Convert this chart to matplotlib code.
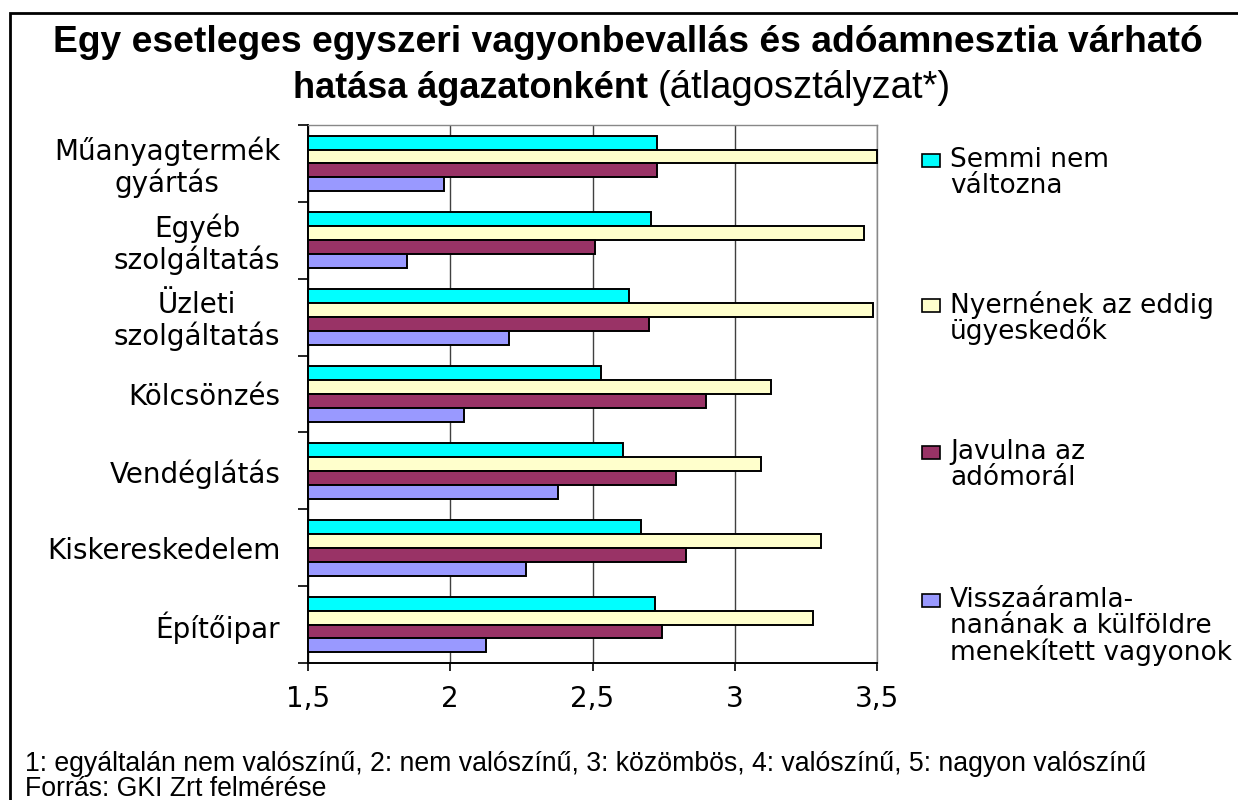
import matplotlib.pyplot as plt
from matplotlib.patches import Rectangle
import numpy as np

W, H = 1238, 800

categories = ['Műanyagtermék\ngyártás', 'Egyéb\nszolgáltatás', 'Üzleti\nszolgáltatás',
              'Kölcsönzés', 'Vendéglátás', 'Kiskereskedelem', 'Építőipar']
series_names = ['Semmi nem\nváltozna', 'Nyernének az eddig\nügyeskedők',
                'Javulna az\nadómorál', 'Visszaáramla-\nnanának a külföldre\nmenekített vagyonok']
semmi = [2.725, 2.705, 2.628, 2.530, 2.606, 2.670, 2.718]
nyernenek = [3.50, 3.456, 3.485, 3.129, 3.094, 3.303, 3.275]
javulna = [2.725, 2.509, 2.698, 2.900, 2.795, 2.830, 2.746]
vissza = [1.979, 1.847, 2.208, 2.049, 2.378, 2.266, 2.126]
colors = ['#00FFFF', '#FFFFCC', '#993366', '#9999FF']
x_ticks = [1.5, 2, 2.5, 3, 3.5]
x_labels = ['1,5', '2', '2,5', '3', '3,5']

title1 = 'Egy esetleges egyszeri vagyonbevallás és adóamnesztia várható'
title2_bold = 'hatása ágazatonként'
title2_reg = '(átlagosztályzat*)'
note1 = '1: egyáltalán nem valószínű, 2: nem valószínű, 3: közömbös, 4: valószínű, 5: nagyon valószínű'
note2 = 'Forrás: GKI Zrt felmérése'

WIDE = 'DejaVu Sans'
NARROW = 'Liberation Sans'

fig = plt.figure(figsize=(W / 100, H / 100), dpi=100)
ax = fig.add_axes([308 / W, 1 - 663 / H, (877 - 308) / W, (663 - 125) / H])

# kategóriák felülről lefelé
n = len(categories)
y = np.arange(n)[::-1].astype(float)
h = 0.181
offsets = [1.5 * h, 0.5 * h, -0.5 * h, -1.5 * h]
for vals, col, off in zip([semmi, nyernenek, javulna, vissza], colors, offsets):
    ax.barh(y + off, np.array(vals) - 1.5, left=1.5, height=h, color=col,
            edgecolor='black', linewidth=1.4, clip_on=False, zorder=3)

ax.set_xlim(1.5, 3.5)
ax.set_ylim(-0.5, n - 0.5)
ax.set_xticks(x_ticks)
ax.set_xticklabels(x_labels, fontsize=20, family=WIDE)
ax.tick_params(axis='x', length=6, width=1.2, pad=10)

ax.set_yticks(np.arange(n + 1) - 0.5)
ax.set_yticklabels([])
ax.tick_params(axis='y', which='major', length=7, width=1.2)
ax.set_yticks(y, minor=True)
ax.set_yticklabels(categories, minor=True, fontsize=20, family=WIDE,
                   multialignment='center', linespacing=1.1)
ax.tick_params(axis='y', which='minor', length=0, pad=20)

ax.grid(axis='x', color='#404040', linewidth=1.0, zorder=0)
ax.set_axisbelow(True)
for s in ['left', 'bottom']:
    ax.spines[s].set_linewidth(1.4)
for s in ['top', 'right']:
    ax.spines[s].set_color('#888888')
    ax.spines[s].set_linewidth(1.0)

# jelmagyarázat kézzel
first_line_y = [160, 305, 452, 600]
line_gap = 26
for name, col, y0 in zip(series_names, colors, first_line_y):
    fig.patches.append(Rectangle((922 / W, 1 - (y0 + 7) / H), 18 / W, 13 / H,
                                 transform=fig.transFigure, facecolor=col,
                                 edgecolor='black', linewidth=1.2))
    for i, line in enumerate(name.split('\n')):
        fig.text(950 / W, 1 - (y0 + i * line_gap) / H, line, ha='left', va='center',
                 fontsize=19, family=WIDE)

# cím
fig.text(628 / W, 1 - 52 / H, title1, ha='center', va='baseline', fontsize=26.8,
         fontweight='bold', family=NARROW)
fig.text(648 / W, 1 - 98 / H, title2_bold, ha='right', va='baseline', fontsize=26,
         fontweight='bold', family=NARROW)
fig.text(658 / W, 1 - 98 / H, title2_reg, ha='left', va='baseline', fontsize=27.5,
         family=NARROW)

fig.text(25 / W, 1 - 764 / H, note1, ha='left', va='center', fontsize=19.2, family=NARROW)
fig.text(25 / W, 1 - 789 / H, note2, ha='left', va='center', fontsize=19.2, family=NARROW)

# keret (jobb és alsó széle kilóg a képből)
fig.patches.append(Rectangle((10 / W, -0.02), 1.1, (H - 13) / H + 0.02,
                             transform=fig.transFigure, fill=False,
                             edgecolor='black', linewidth=2))

plt.savefig('out.png', dpi=100)
